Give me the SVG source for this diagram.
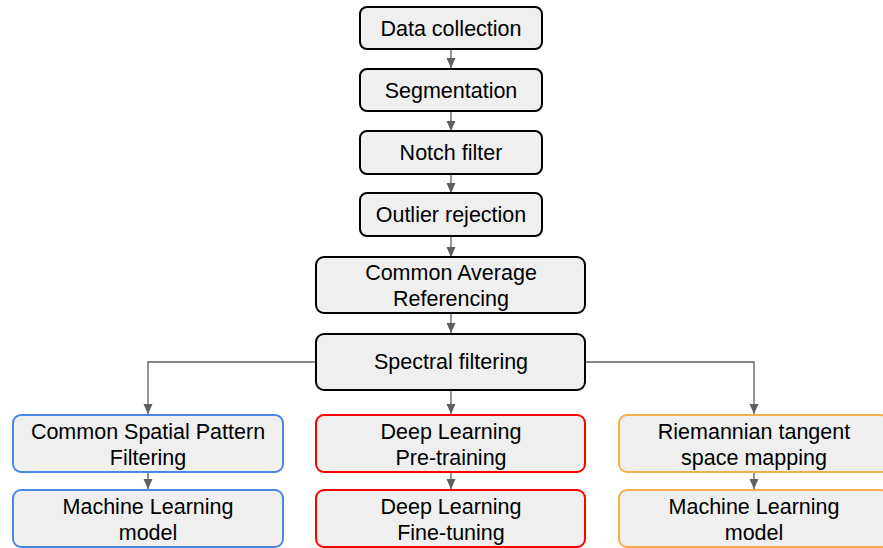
<svg xmlns="http://www.w3.org/2000/svg" width="883" height="548" viewBox="0 0 883 548">
  <style>
    .box { fill: #efefef; stroke-width: 2; }
    .main { stroke: #000000; }
    .csp { stroke: #4a86e8; }
    .dl { stroke: #ff0000; }
    .rie { stroke: #f6ae4a; }
    text { font-family: "Liberation Sans", Arial, sans-serif; font-size: 21.5px; fill: #000000; text-anchor: middle; }
    .conn { fill: none; stroke: #5f5f5f; stroke-width: 1.3; }
  </style>
  <defs>
    <marker id="arrow" viewBox="0 0 10 9" refX="10" refY="4.5" markerWidth="8" markerHeight="7" orient="auto" markerUnits="strokeWidth">
      <path d="M0,0 L10,4.5 L0,9 Z" fill="#5f5f5f"/>
    </marker>
  </defs>

  <rect width="883" height="548" fill="#ffffff"/>

  <!-- connectors -->
  <g id="connectors">
    <path class="conn" d="M451,49 V68" marker-end="url(#arrow)"/>
    <path class="conn" d="M451,111 V131" marker-end="url(#arrow)"/>
    <path class="conn" d="M451,174 V193" marker-end="url(#arrow)"/>
    <path class="conn" d="M451,236 V257" marker-end="url(#arrow)"/>
    <path class="conn" d="M451,313 V333" marker-end="url(#arrow)"/>
    <path class="conn" d="M316,362 H148 V414" marker-end="url(#arrow)"/>
    <path class="conn" d="M451,390 V414" marker-end="url(#arrow)"/>
    <path class="conn" d="M585,362 H754 V414" marker-end="url(#arrow)"/>
    <path class="conn" d="M148,472 V489" marker-end="url(#arrow)"/>
    <path class="conn" d="M451,472 V489" marker-end="url(#arrow)"/>
    <path class="conn" d="M754,472 V489" marker-end="url(#arrow)"/>
  </g>

  <g id="data-collection">
    <rect class="box main" x="360" y="7" width="182" height="42" rx="7"/>
    <text x="451" y="36">Data collection</text>
  </g>
  <g id="segmentation">
    <rect class="box main" x="360" y="69" width="182" height="42" rx="7"/>
    <text x="451" y="98">Segmentation</text>
  </g>
  <g id="notch-filter">
    <rect class="box main" x="360" y="131" width="182" height="43" rx="7"/>
    <text x="451" y="160">Notch filter</text>
  </g>
  <g id="outlier-rejection">
    <rect class="box main" x="360" y="193" width="182" height="43" rx="7"/>
    <text x="451" y="222">Outlier rejection</text>
  </g>
  <g id="car">
    <rect class="box main" x="316" y="257" width="269" height="56" rx="8"/>
    <text x="451" y="280">Common Average</text>
    <text x="451" y="306">Referencing</text>
  </g>
  <g id="spectral-filtering">
    <rect class="box main" x="316" y="334" width="269" height="56" rx="8"/>
    <text x="451" y="369">Spectral filtering</text>
  </g>

  <g id="csp">
    <rect class="box csp" x="13" y="415" width="270" height="57" rx="8"/>
    <text x="148" y="439">Common Spatial Pattern</text>
    <text x="148" y="465">Filtering</text>
  </g>
  <g id="ml-left">
    <rect class="box csp" x="13" y="490" width="270" height="57" rx="8"/>
    <text x="148" y="514">Machine Learning</text>
    <text x="148" y="540">model</text>
  </g>

  <g id="dl-pretraining">
    <rect class="box dl" x="316" y="415" width="269" height="57" rx="8"/>
    <text x="451" y="439">Deep Learning</text>
    <text x="451" y="465">Pre-training</text>
  </g>
  <g id="dl-finetuning">
    <rect class="box dl" x="316" y="490" width="269" height="57" rx="8"/>
    <text x="451" y="514">Deep Learning</text>
    <text x="451" y="540">Fine-tuning</text>
  </g>

  <g id="riemannian">
    <rect class="box rie" x="619" y="415" width="270" height="57" rx="8"/>
    <text x="754" y="439">Riemannian tangent</text>
    <text x="754" y="465">space mapping</text>
  </g>
  <g id="ml-right">
    <rect class="box rie" x="619" y="490" width="270" height="57" rx="8"/>
    <text x="754" y="514">Machine Learning</text>
    <text x="754" y="540">model</text>
  </g>
</svg>
